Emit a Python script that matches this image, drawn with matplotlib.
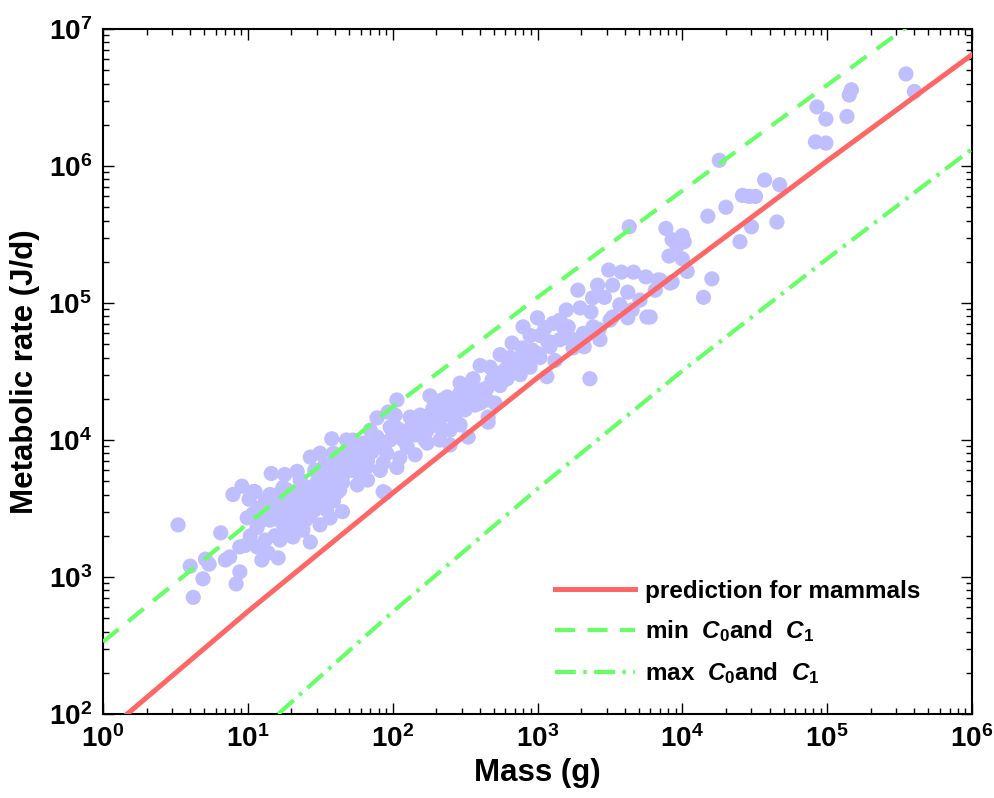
import math
import matplotlib
matplotlib.use('Agg')
import matplotlib.pyplot as plt
from matplotlib.ticker import FuncFormatter, LogLocator, NullFormatter

plt.rcParams['font.family'] = ['Liberation Sans', 'DejaVu Sans']
plt.rcParams['font.weight'] = 'bold'
plt.rcParams['mathtext.fontset'] = 'custom'
plt.rcParams['mathtext.rm'] = 'Liberation Sans:bold'
plt.rcParams['mathtext.bf'] = 'Liberation Sans:bold'
plt.rcParams['mathtext.it'] = 'Liberation Sans:italic'

# body mass (g) and metabolic rate (J/d) of the mammal data cloud
mass = [
    3.3, 4.0, 4.2, 4.9, 5.1, 5.4, 6.5, 8.3, 7.9, 9.1, 7.5, 7.0, 8.8, 8.8, 9.9, 10.2, 10.9, 11.6, 13.8, 16.2,
    16.7, 20.5, 24, 27, 11.6, 13.6, 16.7, 22.9, 28, 35, 39, 43, 18.7, 22.9, 30, 39, 48, 37, 14.5, 18,
    21.9, 27, 38, 48, 14.2, 12.1, 11.2, 17.5, 25.6, 31.5, 34, 12.5, 10.4, 9.6, 13.2, 18, 21, 25, 29, 19.6,
    14.2, 10.9, 41, 57, 45, 27, 31.5, 24, 28, 39, 35, 45, 60, 31.5, 41, 51, 67, 86, 107, 86,
    67, 91, 126, 31.5, 39, 63, 53, 78, 78, 93, 107, 96, 112, 138, 173, 212, 249, 173, 212, 132,
    155, 187, 107, 67, 67, 212, 190, 257, 238, 292, 359, 332, 456, 449, 306, 219, 261, 279, 343, 421,
    509, 402, 456, 181, 359, 526, 617, 292, 353, 449, 471, 402, 617, 723, 889, 1160, 552, 647, 759, 1040,
    668, 783, 993, 1220, 1760, 2100, 889, 1040, 1220, 1600, 1000, 795, 1280, 1630, 2070, 2660, 1760, 1500, 1580, 1970,
    2340, 2420, 3170, 3300, 4200, 4500, 5700, 4200, 2900, 2400, 1900, 2600, 3300, 3100, 3800, 4600, 5600, 7000, 8500, 2300,
    4300, 6000, 7700, 10000, 10300, 8500, 9200, 8100, 10000, 10800, 16000, 14000, 8200, 6800, 18000, 15000, 20000, 26000, 29000, 32000,
    37000, 47000, 30000, 45000, 25000, 83000, 98000, 85000, 98000, 137000, 142000, 147000, 350000, 400000, 51, 60, 73, 96, 118, 143,
    167, 230, 270, 316, 371, 292, 143, 112, 82, 104, 70, 47, 34, 29, 23, 19.6, 15.4, 13.2, 18, 23,
    31.5, 15.4, 552, 759, 889, 1320, 1430, 1130, 3700, 5100, 6500, 1430, 2700, 89,
    12.5, 14.7, 17.2, 20.2, 23.7, 27.7, 32.5, 38.2, 44.8, 52.5, 61.5, 72, 85, 99, 116, 136, 160, 187,
    219, 257, 301, 353, 414, 485, 570, 668, 783, 918, 1180, 16.2, 21.2, 18.1, 49, 40, 167, 249,
]
rate = [
    2400, 1200, 710, 970, 1350, 1240, 2100, 890, 4000, 4600, 1400, 1330, 1660, 1090, 2700, 3700, 4200, 1660, 1500, 1380,
    1860, 1960, 2200, 1800, 2300, 2700, 3100, 3200, 3600, 3100, 3600, 4300, 4300, 4300, 4900, 5400, 6400, 2700, 5700, 5600,
    5900, 7500, 10200, 10000, 4000, 3200, 4200, 4500, 4500, 3600, 4300, 1330, 2000, 1700, 1860, 2200, 2400, 2600, 3100, 3100,
    2600, 2900, 4100, 4700, 3000, 2800, 3500, 3600, 4300, 3800, 5100, 4900, 5400, 5700, 6000, 6800, 6400, 6800, 6300, 4200,
    7500, 8000, 8900, 8000, 8000, 9500, 10000, 10500, 14500, 16000, 19600, 12400, 11800, 12400, 11800, 12400, 11800, 9500, 10000, 14700,
    15200, 14700, 12200, 7100, 5100, 19000, 17100, 17400, 20600, 22000, 24000, 10500, 13500, 19600, 22000, 19600, 17400, 20600, 22000, 22000,
    18600, 18600, 14700, 21000, 28000, 29000, 28000, 26000, 25000, 24000, 34000, 35000, 34000, 34000, 34000, 29000, 42000, 40000, 38000, 40000,
    51000, 47000, 43000, 48000, 47000, 48000, 58000, 58000, 52000, 56000, 78000, 67000, 71000, 67000, 60000, 64000, 54000, 67000, 89000, 92000,
    86000, 67000, 75000, 79000, 78000, 89000, 79000, 120000, 110000, 109000, 124000, 135000, 135000, 174000, 168000, 168000, 155000, 147000, 142000, 28000,
    360000, 79000, 350000, 310000, 280000, 290000, 260000, 220000, 210000, 170000, 150000, 110000, 140000, 147000, 1100000, 430000, 500000, 610000, 600000, 600000,
    790000, 730000, 360000, 390000, 280000, 1500000, 1470000, 2700000, 2200000, 2300000, 3300000, 3600000, 4700000, 3500000, 8500, 7800, 9200, 10000, 10000, 10900,
    12900, 15200, 14000, 16600, 18000, 12900, 7800, 7400, 6000, 15200, 11800, 7100, 6600, 6000, 5100, 3600, 3400, 3600, 2600, 2400,
    2400, 2000, 25000, 30000, 42000, 38000, 54000, 66000, 97000, 105000, 124000, 75000, 54000, 4100,
    2600, 3000, 2500, 2800, 3000, 3400, 4000, 4500, 5300, 6000, 6900, 8200, 9200, 10400, 11400, 12900, 14000, 16000,
    16600, 15200, 18000, 20300, 23200, 27400, 31300, 35200, 40400, 45400, 51900, 4000, 3650, 3360, 7800, 6900, 10000, 9200,
]

# curves
pred_mass = [1.47, 10, 100, 1e3, 1e4, 1e5, 1e6]
pred_rate = [100, 560, 4100, 28500, 177000, 1090000, 6500000]
min_mass = [1, 10, 100, 1e3, 1e4, 1e5, 1e6]
min_rate = [336, 2450, 17400, 110000, 660000, 3900000, 23000000]
max_mass = [16.2, 100, 1e3, 1e4, 1e5, 1e6]
max_rate = [100, 556, 4400, 32000, 210000, 1330000]

x_ticks = [1, 10, 100, 1e3, 1e4, 1e5, 1e6]
y_ticks = [1e2, 1e3, 1e4, 1e5, 1e6, 1e7]

fig = plt.figure(figsize=(9.94, 7.98), dpi=100)
ax = fig.add_axes([103 / 994, 1 - 714 / 798, 869 / 994, 685 / 798])

ax.scatter(mass, rate, s=120, color='#bfbfff', edgecolors='none', zorder=2)
ax.plot(pred_mass, pred_rate, color='#ff6666', lw=3.6, zorder=3,
        label='prediction for mammals')
ax.plot(min_mass, min_rate, color='#66ff66', lw=3.0, dashes=(4.8, 3.0), zorder=3,
        label=r'min  $\mathit{C_0}$and  $\mathit{C_1}$')
ax.plot(max_mass, max_rate, color='#66ff66', lw=3.0, dashes=(5.0, 1.8, 0.8, 1.8), zorder=3,
        label=r'max  $\mathit{C_0}$and  $\mathit{C_1}$')

ax.set_xscale('log')
ax.set_yscale('log')
ax.set_xlim(1, 1e6)
ax.set_ylim(1e2, 1e7)
ax.set_xticks(x_ticks)
ax.set_yticks(y_ticks)
fmt = FuncFormatter(lambda v, p: r'$\mathbf{10^{%d}}$' % round(math.log10(v)))
ax.xaxis.set_major_formatter(fmt)
ax.yaxis.set_major_formatter(fmt)
ax.xaxis.set_minor_locator(LogLocator(base=10, subs=range(2, 10), numticks=20))
ax.yaxis.set_minor_locator(LogLocator(base=10, subs=range(2, 10), numticks=20))
ax.xaxis.set_minor_formatter(NullFormatter())
ax.yaxis.set_minor_formatter(NullFormatter())
ax.tick_params(which='both', direction='in', top=True, right=True, width=1.0)
ax.tick_params(which='major', length=8, labelsize=20, pad=8)
ax.tick_params(which='minor', length=4)
for s in ax.spines.values():
    s.set_linewidth(1.5)

ax.set_xlabel('Mass (g)', fontsize=22.5, fontweight='bold', labelpad=4)
ax.set_ylabel('Metabolic rate (J/d)', fontsize=22.5, fontweight='bold', labelpad=6)

ax.legend(loc='upper left', bbox_to_anchor=(555 / 994, 1 - 580 / 798),
          bbox_transform=fig.transFigure, frameon=False, fontsize=17.5,
          handlelength=3.3, handletextpad=0.4, labelspacing=0.64,
          borderpad=0, borderaxespad=0)

fig.savefig('out.png', dpi=100)
